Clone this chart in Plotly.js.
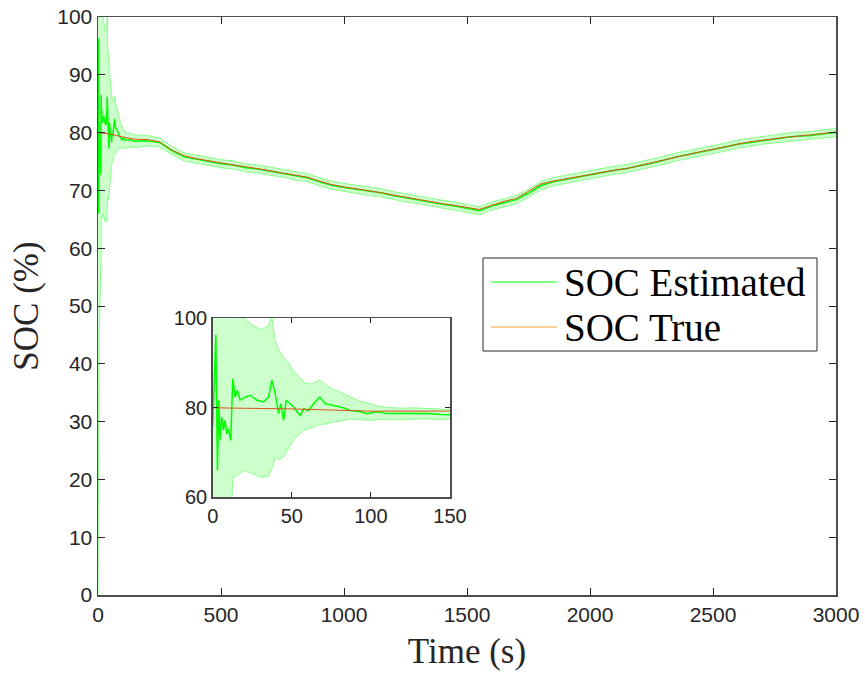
<!DOCTYPE html>
<html>
<head>
<meta charset="utf-8">
<script src="https://cdn.plot.ly/plotly-3.0.1.min.js"></script>
<style>html,body{margin:0;padding:0;background:#fff;}#chart{width:865px;height:677px;}</style>
</head>
<body>
<div id="chart"></div>
<script>
// ---- True SOC ----
const timeTrue = [0,50,100,150,200,250,300,350,400,450,500,550,600,650,700,750,800,850,900,950,1000,1050,1100,1150,1200,1250,1300,1350,1400,1450,1500,1550,1600,1650,1700,1750,1800,1850,1900,1950,2000,2050,2100,2150,2200,2250,2300,2350,2400,2450,2500,2550,2600,2650,2700,2750,2800,2850,2900,2950,3000];
const socTrue = [80.0,79.75,79.25,78.85,78.8,78.4,77.0,76.0,75.5,75.1,74.8,74.4,74.1,73.8,73.4,73.0,72.7,72.3,71.6,71.0,70.6,70.3,69.9,69.6,69.2,68.8,68.4,68.1,67.7,67.4,67.0,66.7,67.4,68.1,68.6,69.8,71.1,71.6,72.0,72.4,72.8,73.2,73.5,73.8,74.3,74.8,75.3,75.8,76.3,76.7,77.1,77.6,78.0,78.4,78.7,79.0,79.2,79.4,79.6,79.8,80.1];

// ---- Estimated SOC ----
const timeEst = [0,1,2,3,3.8,4.6,5.7,6.8,7.8,8.9,9.9,11.4,12.7,14.2,15.6,17.3,20.5,23.7,27.9,32.1,35.3,37.4,39.5,41.6,43.1,44.8,46.5,49,51.1,53.2,55.4,57.5,60.6,63.8,67.6,71.2,75.4,80.7,87.1,93.4,97.6,104,110.3,118.8,127.2,135.7,144.1,150,200,250,300,350,400,450,500,550,600,650,700,750,800,850,900,950,1000,1050,1100,1150,1200,1250,1300,1350,1400,1450,1500,1550,1600,1650,1700,1750,1800,1850,1900,1950,2000,2050,2100,2150,2200,2250,2300,2350,2400,2450,2500,2550,2600,2650,2700,2750,2800,2850,2900,2950,3000];
const socEst = [75.7,86.2,96.3,66.0,81.7,72.7,78.0,75.0,77.2,74.2,75.3,72.7,86.5,82.4,83.9,81.7,82.4,82.8,81.7,81.3,82.4,86.2,83.2,78.7,80.9,77.2,81.7,80.9,80.2,79.1,78.3,79.8,79.4,80.9,82.4,80.9,80.6,80.2,79.4,79.1,78.7,79.1,78.7,78.7,78.8,78.7,78.5,78.5,78.6,78.3,76.9,75.8,75.4,75.0,74.6,74.4,73.9,73.7,73.3,73.0,72.5,72.2,71.5,70.9,70.5,70.2,69.8,69.6,69.1,68.7,68.4,68.0,67.6,67.3,66.9,66.5,67.3,67.9,68.4,69.5,70.8,71.5,71.9,72.3,72.8,73.1,73.5,73.8,74.2,74.7,75.2,75.8,76.2,76.6,77.1,77.5,78.0,78.3,78.7,78.9,79.2,79.4,79.5,79.8,80.0];

// ---- Confidence band ----
const bandTime = [0,1,2,3,4,5,6,8,10,12,12.7,15,20,25,30,35,37.4,39.5,42,45,48,51,55,58,63,67.6,72,76,81,87,93,100,104,110,119,127,136,144,150,200,250,300,350,400,450,500,550,600,650,700,750,800,850,900,950,1000,1050,1100,1150,1200,1250,1300,1350,1400,1450,1500,1550,1600,1650,1700,1750,1800,1850,1900,1950,2000,2050,2100,2150,2200,2250,2300,2350,2400,2450,2500,2550,2600,2650,2700,2750,2800,2850,2900,2950,3000];
const bandUpper = [110,110,110,110,110,110,110,110,110,110,100.5,100.2,100,98.5,97.5,98.2,100.3,95,92.8,91.2,90,88.3,86.8,85.6,85.3,86.3,85,84.2,83.4,82.5,81.5,80.9,80.4,80.1,79.9,80.0,79.8,79.7,79.6,79.5,79.1,77.6,76.5,76.1,75.7,75.3,75.1,74.6,74.4,74.0,73.7,73.2,72.9,72.2,71.6,71.2,70.9,70.5,70.3,69.8,69.4,69.1,68.7,68.3,68.0,67.6,67.2,68.0,68.6,69.1,70.2,71.5,72.2,72.6,73.0,73.5,73.8,74.2,74.5,74.9,75.4,75.9,76.5,76.9,77.3,77.8,78.2,78.7,79.0,79.4,79.6,79.9,80.1,80.2,80.5,80.7];
const bandLower = [0,10,22,32,40,45,48,52,55,58,64.5,64.8,66,65.2,64.5,64.6,66.5,69,68.3,69.2,71,72.8,74.2,75,75.6,76.3,76.4,76.8,77,77.5,77.4,77.2,77.4,77.3,77.3,77.5,77.5,77.4,77.4,77.7,77.5,76.2,75.1,74.7,74.3,73.9,73.7,73.2,73.0,72.6,72.3,71.8,71.5,70.8,70.2,69.8,69.5,69.1,68.9,68.4,68.0,67.7,67.3,66.9,66.6,66.2,65.8,66.6,67.2,67.7,68.8,70.1,70.8,71.2,71.6,72.1,72.4,72.8,73.1,73.5,74.0,74.5,75.1,75.5,75.9,76.4,76.8,77.3,77.6,78.0,78.2,78.5,78.7,78.8,79.1,79.3];

// ---- Axes ticks / labels ----
const mainXTicks = [0,500,1000,1500,2000,2500,3000];
const mainYTicks = [0,10,20,30,40,50,60,70,80,90,100];
const insetXTicks = [0,50,100,150];
const insetYTicks = [60,80,100];
const legendNames = ['SOC Estimated','SOC True'];

const bandX = bandTime.concat(bandTime.slice().reverse());
const bandY = bandUpper.concat(bandLower.slice().reverse());

const estColor = '#00ff00';
const trueColor = '#D95319';
const fillColor = 'rgb(204,255,204)';
const edgeColor = 'rgb(140,255,140)';

function makeTraces(xa, ya) {
  return [
    {x: bandX, y: bandY, xaxis: xa, yaxis: ya, type: 'scatter', mode: 'lines', fill: 'toself',
     fillcolor: fillColor, line: {color: edgeColor, width: 1}, showlegend: false, hoverinfo: 'skip'},
    {x: timeEst, y: socEst, xaxis: xa, yaxis: ya, type: 'scatter', mode: 'lines',
     line: {color: estColor, width: 1.5}, name: legendNames[0], showlegend: false},
    {x: timeTrue, y: socTrue, xaxis: xa, yaxis: ya, type: 'scatter', mode: 'lines',
     line: {color: trueColor, width: 1}, name: legendNames[1], showlegend: false}
  ];
}

const data = makeTraces('x', 'y').concat(makeTraces('x2', 'y2'));

const axisCommon = {
  showgrid: false, zeroline: false, showline: true, linecolor: '#4d4d4d', linewidth: 1.5,
  mirror: 'ticks', ticks: 'inside', tickcolor: '#262626', tickwidth: 1,
  tickfont: {family: 'Liberation Sans, Arial, sans-serif', size: 21, color: '#262626'}
};

const pxX = p => (p - 98) / 738;
const pxY = p => (595 - p) / 578;

const layout = {
  width: 865, height: 677,
  margin: {l: 98, r: 29, t: 17, b: 82},
  paper_bgcolor: '#ffffff', plot_bgcolor: '#ffffff',
  showlegend: false,
  xaxis: Object.assign({}, axisCommon, {
    domain: [0, 1], range: [0, 3000], tickmode: 'array', tickvals: mainXTicks, ticklen: 7,
    title: {text: 'Time (s)', font: {family: 'Liberation Serif, Times New Roman, serif', size: 35, color: '#262626'}, standoff: 14}
  }),
  yaxis: Object.assign({}, axisCommon, {
    domain: [0, 1], range: [0, 100], tickmode: 'array', tickvals: mainYTicks, ticklen: 7,
    title: {text: 'SOC (%)', font: {family: 'Liberation Serif, Times New Roman, serif', size: 35, color: '#262626'}, standoff: 8}
  }),
  xaxis2: Object.assign({}, axisCommon, {
    domain: [pxX(212.7), pxX(450)], range: [0, 150], tickmode: 'array', tickvals: insetXTicks, ticklen: 5,
    anchor: 'y2', tickfont: {family: 'Liberation Sans, Arial, sans-serif', size: 20, color: '#262626'}
  }),
  yaxis2: Object.assign({}, axisCommon, {
    domain: [pxY(497.3), pxY(318.3)], range: [60, 100], tickmode: 'array', tickvals: insetYTicks, ticklen: 5,
    anchor: 'x2', tickfont: {family: 'Liberation Sans, Arial, sans-serif', size: 20, color: '#262626'}
  }),
  shapes: [
    {type: 'rect', xref: 'paper', yref: 'paper', x0: pxX(483), x1: pxX(817), y0: pxY(351), y1: pxY(258),
     line: {color: '#262626', width: 1}, fillcolor: '#ffffff', layer: 'above'},
    {type: 'line', xref: 'paper', yref: 'paper', x0: pxX(491), x1: pxX(557), y0: pxY(282), y1: pxY(282),
     line: {color: estColor, width: 1}, layer: 'above'},
    {type: 'line', xref: 'paper', yref: 'paper', x0: pxX(491), x1: pxX(557), y0: pxY(327), y1: pxY(327),
     line: {color: '#F0A030', width: 1}, layer: 'above'}
  ],
  annotations: [
    {xref: 'paper', yref: 'paper', x: pxX(562), y: pxY(282), xanchor: 'left', yanchor: 'middle', showarrow: false,
     text: legendNames[0], font: {family: 'Liberation Serif, Times New Roman, serif', size: 39, color: '#000'}},
    {xref: 'paper', yref: 'paper', x: pxX(562), y: pxY(327), xanchor: 'left', yanchor: 'middle', showarrow: false,
     text: legendNames[1], font: {family: 'Liberation Serif, Times New Roman, serif', size: 39, color: '#000'}}
  ]
};

Plotly.newPlot('chart', data, layout, {displayModeBar: false, staticPlot: true});
</script>
</body>
</html>
